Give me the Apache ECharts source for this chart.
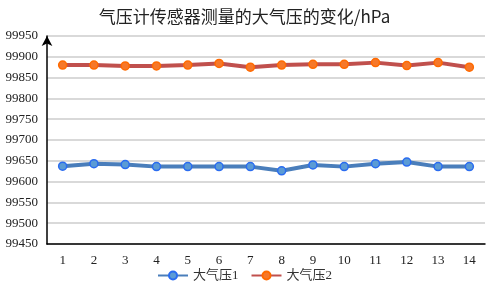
<!DOCTYPE html>
<html><head><meta charset="utf-8">
<script src="https://cdn.jsdelivr.net/npm/echarts@6/dist/echarts.min.js"></script>
<style>html,body{margin:0;padding:0;background:#fff}#c{width:489px;height:287px}</style>
</head><body><div id="c"></div>
<script>
const categories = ['1','2','3','4','5','6','7','8','9','10','11','12','13','14'];
const pressure1 = [99637,99643,99641,99636,99636,99636,99636,99626,99640,99636,99643,99647,99636,99636];
const pressure2 = [99880,99880,99878,99878,99880,99884,99875,99880,99882,99882,99886,99879,99886,99875];
const seriesNames = ['大气压1','大气压2'];
const titleText = '气压计传感器测量的大气压的变化/hPa';

const chart = echarts.init(document.getElementById('c'), null, {renderer:'canvas'});
chart.setOption({
  animation:false,
  backgroundColor:'#fff',
  title:{text:titleText,left:'center',top:3,
    textStyle:{fontFamily:'Noto Sans CJK SC',fontSize:17,fontWeight:'normal',color:'#222'}},
  grid:{left:47,right:4,top:36,bottom:43,containLabel:false},
  legend:{bottom:0,left:'center',itemWidth:30,itemHeight:10,itemGap:12,
    textStyle:{fontFamily:'Liberation Serif, Noto Sans CJK SC',fontSize:13,color:'#333'},
    data:seriesNames},
  xAxis:{type:'category',data:categories,boundaryGap:true,
    axisLine:{lineStyle:{color:'#000',width:1.5}},
    axisTick:{show:false},
    axisLabel:{fontFamily:'Liberation Serif',fontSize:13,color:'#222',margin:10}},
  yAxis:{type:'value',min:99450,max:99950,interval:50,
    axisLine:{show:true,symbol:['none','arrow'],symbolSize:[8,10],lineStyle:{color:'#000',width:1.5}},
    axisTick:{show:false},
    splitLine:{lineStyle:{color:'#d9d9d9',width:2}},
    axisLabel:{fontFamily:'Liberation Serif',fontSize:13,color:'#222',margin:9,
      formatter:function(v){return String(v);}}},
  series:[
    {name:seriesNames[0],type:'line',data:pressure1,symbol:'circle',symbolSize:8,
     lineStyle:{color:'#4a7ebb',width:4},
     itemStyle:{color:'#5b9bd5',borderColor:'#2a6cf0',borderWidth:1.5}},
    {name:seriesNames[1],type:'line',data:pressure2,symbol:'circle',symbolSize:8,
     lineStyle:{color:'#c0504d',width:4},
     itemStyle:{color:'#f6782a',borderColor:'#ff6a00',borderWidth:1.5}}
  ]
});
</script></body></html>
